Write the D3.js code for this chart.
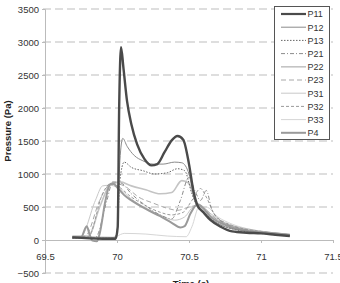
<!DOCTYPE html>
<html><head><meta charset="utf-8">
<script src="https://cdn.jsdelivr.net/npm/d3@7"></script>
<style>body{margin:0;background:#fff}svg{display:block}text{font-family:"Liberation Sans",Arial,sans-serif}</style>
</head><body><svg id="c" width="340" height="283"></svg>
<script>
const xTicks = [69.5, 70, 70.5, 71, 71.5];
const xTickLabels = ["69.5", "70", "70.5", "71", "71.5"];
const yTicks = [-500, 0, 500, 1000, 1500, 2000, 2500, 3000, 3500];
const seriesNames = ["P11","P12","P13","P21","P22","P23","P31","P32","P33","P4"];

const P11 = [[69.69,40],[69.9,20],[69.99,20],[70.005,200],[70.015,2000],[70.028,2920],[70.045,2600],[70.07,2100],[70.1,1750],[70.14,1450],[70.19,1230],[70.24,1130],[70.28,1150],[70.33,1330],[70.38,1510],[70.42,1575],[70.46,1520],[70.5,1150],[70.53,750],[70.56,520],[70.6,420],[70.65,300],[70.72,200],[70.8,130],[70.9,110],[71.0,100],[71.1,80],[71.2,60]];
const P12 = [[69.69,50],[69.98,40],[70.0,100],[70.02,1200],[70.04,1540],[70.07,1420],[70.12,1280],[70.18,1200],[70.25,1150],[70.32,1150],[70.4,1180],[70.45,1170],[70.5,1000],[70.54,600],[70.58,450],[70.65,320],[70.75,200],[70.85,150],[71.0,110],[71.2,70]];
const P13 = [[69.69,30],[69.98,30],[70.0,100],[70.02,900],[70.05,1180],[70.1,1100],[70.18,1050],[70.26,1000],[70.35,1020],[70.42,1080],[70.47,1050],[70.52,700],[70.56,500],[70.62,380],[70.7,250],[70.8,170],[71.0,100],[71.2,60]];
const P21 = [[69.69,40],[69.85,40],[69.93,600],[69.97,880],[70.03,860],[70.1,700],[70.2,520],[70.3,380],[70.38,320],[70.44,600],[70.5,950],[70.54,750],[70.58,600],[70.62,750],[70.66,450],[70.75,250],[70.9,150],[71.05,100],[71.2,60]];
const P22 = [[69.69,60],[69.8,60],[69.88,500],[69.95,830],[70.02,880],[70.1,820],[70.2,760],[70.3,700],[70.38,720],[70.45,900],[70.5,860],[70.55,550],[70.6,450],[70.7,300],[70.85,180],[71.0,130],[71.2,80]];
const P23 = [[69.69,40],[69.78,60],[69.88,600],[69.93,800],[70.0,850],[70.05,820],[70.15,650],[70.25,560],[70.35,480],[70.42,450],[70.5,500],[70.55,520],[70.6,480],[70.7,300],[70.85,180],[71.0,120],[71.2,70]];
const P31 = [[69.69,30],[69.75,50],[69.85,600],[69.9,820],[69.95,830],[70.0,800],[70.1,620],[70.2,480],[70.3,380],[70.4,300],[70.47,350],[70.53,500],[70.58,520],[70.65,400],[70.75,260],[70.9,170],[71.05,120],[71.2,80]];
const P32 = [[69.69,50],[69.8,50],[69.9,700],[69.95,850],[70.0,820],[70.1,650],[70.2,520],[70.3,420],[70.38,380],[70.46,420],[70.52,600],[70.58,780],[70.62,650],[70.68,380],[70.8,220],[71.0,130],[71.2,80]];
const P33 = [[69.69,30],[69.95,30],[70.0,60],[70.05,100],[70.2,90],[70.35,60],[70.48,50],[70.52,200],[70.57,500],[70.62,500],[70.7,350],[70.8,240],[70.95,150],[71.1,100],[71.2,80]];
const P4 = [[69.69,30],[69.75,40],[69.79,210],[69.81,80],[69.83,-10],[69.86,-20],[69.88,100],[69.92,600],[69.95,840],[69.97,860],[70.0,800],[70.05,680],[70.1,600],[70.2,470],[70.3,360],[70.38,260],[70.44,190],[70.47,210],[70.51,400],[70.56,540],[70.6,480],[70.65,350],[70.75,230],[70.9,140],[71.05,110],[71.2,80]];

const seriesData = {P11,P12,P13,P21,P22,P23,P31,P32,P33,P4};
const styles = {
  P11:{c:"#4a4a4a",w:2.4,d:null},
  P12:{c:"#8a8a8a",w:1,d:null},
  P13:{c:"#666",w:1,d:"1.5,1.5"},
  P21:{c:"#8c8c8c",w:1,d:"4,2,1,2"},
  P22:{c:"#c4c4c4",w:1.6,d:null},
  P23:{c:"#a8a8a8",w:1,d:"5,3"},
  P31:{c:"#c8c8c8",w:1,d:null},
  P32:{c:"#9a9a9a",w:1,d:"3,2"},
  P33:{c:"#d6d6d6",w:1,d:null},
  P4:{c:"#9a9a9a",w:2,d:null}
};
const drawOrder = ["P33","P31","P22","P23","P32","P21","P4","P13","P12","P11"];

const svg = d3.select("#c");
const x = d3.scaleLinear().domain([69.5,71.5]).range([45,333]);
const y = d3.scaleLinear().domain([-500,3500]).range([273,9]);

// grid
svg.append("g").selectAll("line").data(yTicks.filter(v=>v!==0)).join("line")
  .attr("x1",43).attr("x2",333).attr("y1",d=>y(d)).attr("y2",d=>y(d))
  .attr("stroke","#bdbdbd").attr("stroke-width",1).attr("stroke-dasharray","8,4");

// y axis
const ya = svg.append("g").attr("transform","translate(45,0)").call(d3.axisLeft(y).tickValues(yTicks).tickFormat(d3.format("d")).tickSize(3).tickPadding(3));
ya.select(".domain").attr("stroke","#bbb");
ya.selectAll(".tick line").attr("stroke","#bbb");
ya.selectAll("text").attr("font-size","9.5px").attr("fill","#333").attr("font-family","Liberation Sans, Arial, sans-serif");

// x axis at y=0
const xa = svg.append("g").attr("transform",`translate(0,${y(0)})`).call(d3.axisBottom(x).tickValues(xTicks).tickFormat((d,i)=>xTickLabels[i]).tickSize(3).tickPadding(10));
xa.select(".domain").attr("stroke","#bbb");
xa.selectAll(".tick line").attr("stroke","#bbb");
xa.selectAll("text").attr("font-size","9.5px").attr("fill","#333").attr("font-family","Liberation Sans, Arial, sans-serif");

// lines
const line = d3.line().x(d=>x(d[0])).y(d=>y(d[1])).curve(d3.curveMonotoneX);
drawOrder.forEach(n=>{
  const s = styles[n];
  svg.append("path").datum(seriesData[n]).attr("d",line).attr("fill","none")
    .attr("stroke",s.c).attr("stroke-width",s.w).attr("stroke-dasharray",s.d)
    .attr("stroke-linejoin","round");
});

// axis titles
svg.append("text").attr("transform","translate(11,131) rotate(-90)").attr("text-anchor","middle")
  .attr("font-size","9.5px").attr("font-weight","bold").attr("fill","#222").text("Pressure (Pa)");
svg.append("text").attr("x",191).attr("y",287).attr("text-anchor","middle")
  .attr("font-size","9.5px").attr("font-weight","bold").attr("fill","#222").text("Time (s)");

// legend
const lg = svg.append("g");
lg.append("rect").attr("x",274.5).attr("y",6.5).attr("width",55).attr("height",133)
  .attr("fill","#fff").attr("stroke","#555").attr("stroke-width",1);
seriesNames.forEach((n,i)=>{
  const yy = 14 + i*13.2;
  const s = styles[n];
  lg.append("line").attr("x1",281).attr("x2",306).attr("y1",yy).attr("y2",yy)
    .attr("stroke",s.c).attr("stroke-width",Math.min(s.w,2.2)).attr("stroke-dasharray",s.d);
  lg.append("text").attr("x",307.5).attr("y",yy+3.3).attr("font-size","9px").attr("fill","#333").text(n);
});
</script></body></html>
